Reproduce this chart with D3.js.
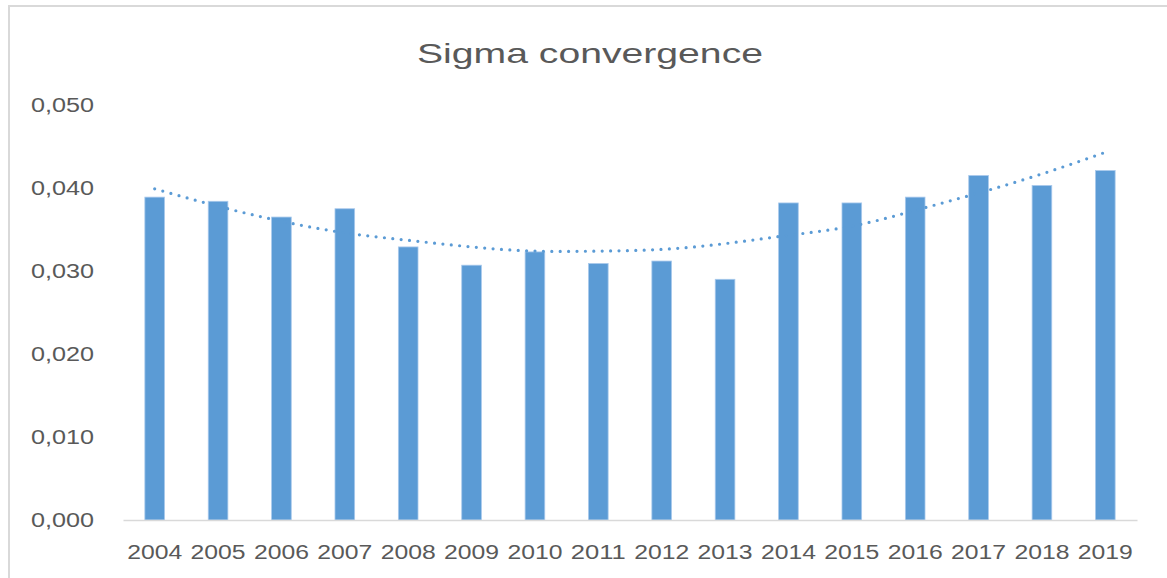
<!DOCTYPE html>
<html>
<head>
<meta charset="utf-8">
<script src="https://cdn.jsdelivr.net/npm/d3@7"></script>
<style>
  html, body { margin: 0; padding: 0; background: #fff; }
  svg { display: block; }
  text { font-family: "Liberation Sans", Arial, sans-serif; fill: #595959; }
</style>
</head>
<body>
<svg id="chart" width="1167" height="578"></svg>
<script>
// values
let years=["2004","2005","2006","2007","2008","2009","2010","2011","2012","2013","2014","2015","2016","2017","2018","2019"];
let sigma=[0.0389,0.0384,0.0365,0.0375,0.0329,0.0307,0.0323,0.0309,0.0312,0.0290,0.0382,0.0382,0.0389,0.0415,0.0403,0.0421];
let trend=[0.0399,0.0378,0.0360,0.0346,0.0337,0.0329,0.0324,0.0324,0.0326,0.0333,0.0343,0.0354,0.0373,0.0394,0.0417,0.0443];
let yTicks=[0,0.01,0.02,0.03,0.04,0.05];

let w=1167, h=578;
let svg=d3.select("#chart");

// chart area frame (only top and left edges fall inside the picture)
svg.append("rect").attr("x",9).attr("y",6).attr("width",w+20).attr("height",h+20)
  .attr("fill","#fff").attr("stroke","#d9d9d9").attr("stroke-width",2);

let padL=123, padR=1137, padT=105, padB=520;

let x=d3.scaleBand().domain(years).range([padL,padR]).paddingInner(0.69).paddingOuter(0.345);
let y=d3.scaleLinear().domain([0,0.05]).range([padB,padT]);

let comma=d3.formatLocale({decimal:",",thousands:".",grouping:[3],currency:["","€"]}).format(".3f");

// title
svg.append("text").text("Sigma convergence")
  .attr("x",590).attr("y",63).attr("text-anchor","middle")
  .attr("textLength",346).attr("lengthAdjust","spacingAndGlyphs")
  .style("font-size","28px");

// y axis (labels only)
let yAxis=svg.append("g").attr("transform","translate("+padL+",0)")
  .call(d3.axisLeft(y).tickValues(yTicks).tickFormat(comma).tickSize(0).tickPadding(29));
yAxis.select(".domain").remove();
yAxis.selectAll("text").style("font-size","20px").attr("font-family",null)
  .attr("textLength",63).attr("lengthAdjust","spacingAndGlyphs");

// bars
svg.append("g").selectAll("rect").data(years).enter().append("rect")
  .attr("x",d=>x(d)).attr("width",x.bandwidth())
  .attr("y",(d,i)=>y(sigma[i])).attr("height",(d,i)=>y(0)-y(sigma[i]))
  .attr("fill","#5b9bd5").attr("stroke","#a8c9ec").attr("stroke-width",0.8);

// x axis
let xAxis=svg.append("g").attr("transform","translate(0,"+padB+")")
  .call(d3.axisBottom(x).tickSize(0).tickSizeOuter(0).tickPadding(25));
xAxis.select(".domain").attr("stroke","#d9d9d9").attr("stroke-width",1.3);
xAxis.selectAll("text").style("font-size","20px").attr("font-family",null)
  .attr("textLength",55).attr("lengthAdjust","spacingAndGlyphs");
xAxis.attr("font-family",null);
yAxis.attr("font-family",null);

// dotted trend line
let line=d3.line().x((d,i)=>x(years[i])+x.bandwidth()/2).y(d=>y(d)).curve(d3.curveNatural);
svg.append("path").datum(trend).attr("d",line)
  .attr("fill","none").attr("stroke","#5b9bd5").attr("stroke-width",3.2)
  .attr("stroke-linecap","round").attr("stroke-dasharray","0 8.4");
</script>
</body>
</html>
